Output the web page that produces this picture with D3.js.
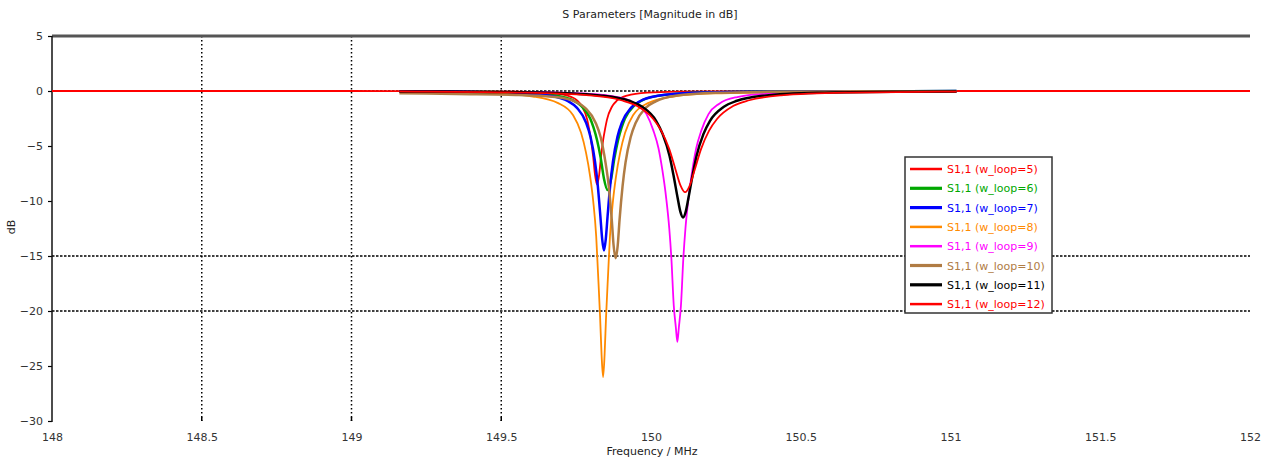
<!DOCTYPE html>
<html>
<head>
<meta charset="utf-8">
<script src="https://cdn.jsdelivr.net/npm/d3@7"></script>
<style>
  html, body { margin: 0; padding: 0; background: #fff; }
  svg { display: block; font-family: "DejaVu Sans", sans-serif; }
</style>
</head>
<body>
<svg id="chart" width="1268" height="458"></svg>
<script>
// Axis ticks
const freqTicks = [148, 148.5, 149, 149.5, 150, 150.5, 151, 151.5, 152];
const dbTicks = [5, 0, -5, -10, -15, -20, -25, -30];
const freqGrid = [148.5, 149, 149.5];
const dbGrid = [0, -15, -20];

// Series labels (legend order = draw order)
const seriesNames = [
  "S1,1 (w_loop=5)", "S1,1 (w_loop=6)", "S1,1 (w_loop=7)", "S1,1 (w_loop=8)",
  "S1,1 (w_loop=9)", "S1,1 (w_loop=10)", "S1,1 (w_loop=11)", "S1,1 (w_loop=12)"
];

// Frequency (MHz) and |S11| (dB) samples per sweep
const freqW5 = [148.0, 149.0, 149.32, 149.553, 149.653, 149.72, 149.753, 149.77, 149.787, 149.793, 149.8, 149.807, 149.813, 149.82, 149.827, 149.833, 149.84, 149.847, 149.853, 149.87, 149.887, 149.92, 149.987, 150.087, 150.32, 151.0, 152.0];
const dbW5 = [0, 0, -0.02, -0.06, -0.15, -0.41, -0.86, -1.41, -2.6, -3.4, -4.5, -6.0, -7.6, -8.5, -7.6, -6.0, -4.5, -3.4, -2.6, -1.41, -0.86, -0.41, -0.15, -0.06, -0.02, 0, 0];

const freqW6 = [149.16, 149.388, 149.563, 149.68, 149.738, 149.767, 149.797, 149.808, 149.82, 149.832, 149.843, 149.855, 149.867, 149.878, 149.89, 149.902, 149.913, 149.943, 149.972, 150.03, 150.147, 150.322, 150.7, 151.02];
const dbW6 = [-0.02, -0.06, -0.15, -0.4, -0.83, -1.36, -2.5, -3.31, -4.47, -6.08, -7.97, -9.0, -7.97, -6.08, -4.47, -3.31, -2.5, -1.36, -0.83, -0.4, -0.15, -0.06, -0.02, -0.01];

const freqW7 = [149.16, 149.362, 149.543, 149.663, 149.723, 149.753, 149.783, 149.798, 149.813, 149.822, 149.831, 149.837, 149.843, 149.849, 149.855, 149.864, 149.873, 149.888, 149.903, 149.933, 149.963, 150.023, 150.143, 150.324, 150.7, 151.02];
const dbW7 = [-0.02, -0.07, -0.16, -0.44, -0.93, -1.53, -2.86, -4.17, -6.41, -8.51, -11.39, -13.47, -14.5, -13.47, -11.39, -8.51, -6.41, -4.17, -2.86, -1.53, -0.93, -0.44, -0.16, -0.07, -0.02, -0.01];

const freqW8 = [149.16, 149.34, 149.473, 149.606, 149.69, 149.74, 149.7665, 149.783, 149.797, 149.807, 149.817, 149.823, 149.83, 149.835, 149.84, 149.845, 149.85, 149.857, 149.863, 149.873, 149.883, 149.897, 149.9135, 149.94, 149.99, 150.074, 150.207, 150.4, 150.7, 151.02];
const dbW8 = [-0.06, -0.13, -0.22, -0.5, -1.1, -2.2, -3.8, -5.6, -7.8, -10, -13.2, -16.5, -20.5, -24, -26, -24, -20.5, -16.5, -13.2, -10, -7.8, -5.6, -3.8, -2.2, -1.1, -0.5, -0.22, -0.12, -0.05, -0.03];

const freqW9 = [149.16, 149.587, 149.788, 149.888, 149.948, 149.985, 150.008, 150.025, 150.038, 150.051, 150.061, 150.068, 150.076, 150.083, 150.088, 150.093, 150.1, 150.108, 150.115, 150.125, 150.138, 150.151, 150.168, 150.192, 150.228, 150.288, 150.388, 150.589, 151.02];
const dbW9 = [-0.03, -0.09, -0.25, -0.55, -1.15, -2.1, -3.6, -5.2, -7.2, -9.8, -12.5, -15.2, -19.5, -21.5, -22.8, -21.5, -19.5, -15.2, -12.5, -9.8, -7.2, -5.2, -3.6, -2.1, -1.15, -0.55, -0.25, -0.09, -0.03];

const freqW10 = [149.16, 149.35, 149.548, 149.682, 149.748, 149.781, 149.815, 149.832, 149.848, 149.859, 149.869, 149.875, 149.882, 149.889, 149.895, 149.905, 149.915, 149.932, 149.949, 149.982, 150.016, 150.082, 150.216, 150.416, 150.7, 151.02];
const dbW10 = [-0.2, -0.28, -0.36, -0.55, -0.98, -1.56, -2.88, -4.21, -6.49, -8.66, -11.71, -14.0, -15.2, -14.0, -11.71, -8.66, -6.49, -4.21, -2.88, -1.54, -0.94, -0.44, -0.17, -0.07, -0.03, -0.02];

const freqW11 = [149.16, 149.385, 149.656, 149.836, 149.927, 149.972, 150.017, 150.039, 150.062, 150.075, 150.089, 150.098, 150.107, 150.116, 150.125, 150.139, 150.152, 150.175, 150.197, 150.242, 150.287, 150.378, 150.558, 150.829, 151.02];
const dbW11 = [-0.04, -0.06, -0.16, -0.42, -0.89, -1.46, -2.71, -3.92, -5.91, -7.64, -9.73, -10.97, -11.5, -10.97, -9.73, -7.64, -5.91, -3.92, -2.71, -1.46, -0.89, -0.42, -0.16, -0.06, -0.04];

const freqW12 = [149.16, 149.26, 149.58, 149.794, 149.9, 149.954, 150.007, 150.034, 150.061, 150.082, 150.098, 150.114, 150.13, 150.146, 150.167, 150.194, 150.221, 150.274, 150.328, 150.434, 150.648, 150.968, 151.02];
const dbW12 = [-0.04, -0.06, -0.15, -0.4, -0.84, -1.37, -2.52, -3.6, -5.28, -7.15, -8.55, -9.2, -8.55, -7.15, -5.28, -3.6, -2.52, -1.37, -0.84, -0.4, -0.15, -0.06, -0.05];

const sweepFreqs = [freqW5, freqW6, freqW7, freqW8, freqW9, freqW10, freqW11, freqW12];
const sweepDb = [dbW5, dbW6, dbW7, dbW8, dbW9, dbW10, dbW11, dbW12];

// Line styling per sweep
const lineColors = ["#ff0000", "#00a800", "#0000ff", "#ff8a00", "#ff00ff", "#b07c44", "#000000", "#ff0000"];
const lineWidths = [1.8, 2.5, 2.5, 1.8, 1.8, 2.5, 2.5, 1.8];

(function draw() {
  const svg = d3.select("#chart");
  const pLeft = 52, pRight = 1250, pTop = 36, pBottom = 421;

  const x = d3.scaleLinear().domain([148, 152]).range([pLeft, pRight]);
  const y = d3.scaleLinear().domain([-30, 5]).range([pBottom, pTop]);

  // Title
  svg.append("text")
    .attr("x", 650).attr("y", 18)
    .attr("text-anchor", "middle")
    .attr("font-size", 11).attr("fill", "#222")
    .text("S Parameters [Magnitude in dB]");

  // Dotted grid
  const grid = svg.append("g");
  grid.selectAll("line.vx").data(freqGrid).join("line").attr("class", "vx")
    .attr("x1", d => x(d)).attr("x2", d => x(d))
    .attr("y1", pTop).attr("y2", pBottom)
    .attr("stroke", "#000").attr("stroke-width", 1.5)
    .attr("stroke-dasharray", "1.5,2.5");
  grid.selectAll("line.vt").data(freqGrid).join("line").attr("class", "vt")
    .attr("x1", d => x(d)).attr("x2", d => x(d))
    .attr("y1", pBottom - 4).attr("y2", pBottom)
    .attr("stroke", "#000").attr("stroke-width", 1.5);
  grid.selectAll("line.hy").data(dbGrid).join("line").attr("class", "hy")
    .attr("x1", pLeft).attr("x2", pRight)
    .attr("y1", d => y(d)).attr("y2", d => y(d))
    .attr("stroke", "#000").attr("stroke-width", 1.5)
    .attr("stroke-dasharray", "2.5,1.5");

  // Axes
  const yAxis = svg.append("g")
    .attr("transform", `translate(${pLeft},0)`)
    .call(d3.axisLeft(y).tickValues(dbTicks).tickSize(4).tickPadding(5).tickFormat(d3.format("d")));
  yAxis.select(".domain").remove();
  yAxis.selectAll("text").attr("font-size", 11).attr("fill", "#333").attr("font-family", "DejaVu Sans");
  yAxis.selectAll("line").attr("stroke", "#000").attr("stroke-width", 1.2);

  const xAxis = svg.append("g")
    .attr("transform", `translate(0,${pBottom})`)
    .call(d3.axisBottom(x).tickValues(freqTicks).tickSize(0).tickPadding(12).tickFormat(d => String(d)));
  xAxis.select(".domain").remove();
  xAxis.selectAll("text").attr("font-size", 11).attr("fill", "#333").attr("font-family", "DejaVu Sans");

  // Frame: top border and left axis line
  svg.append("line")
    .attr("x1", pLeft).attr("x2", pRight).attr("y1", pTop).attr("y2", pTop)
    .attr("stroke", "#555").attr("stroke-width", 3);
  svg.append("line")
    .attr("x1", pLeft).attr("x2", pLeft).attr("y1", pTop).attr("y2", pBottom + 1)
    .attr("stroke", "#111").attr("stroke-width", 1.5);

  // Axis labels
  svg.append("text")
    .attr("x", 652).attr("y", 455)
    .attr("text-anchor", "middle")
    .attr("font-size", 11).attr("fill", "#222")
    .text("Frequency / MHz");
  svg.append("text")
    .attr("transform", "translate(15,227) rotate(-90)")
    .attr("text-anchor", "middle")
    .attr("font-size", 11).attr("fill", "#222")
    .text("dB");

  // Sweeps
  const line = d3.line()
    .x(d => x(d[0])).y(d => y(d[1]))
    .curve(d3.curveMonotoneX);

  const curves = svg.append("g").attr("fill", "none").attr("stroke-linejoin", "round");
  sweepFreqs.forEach((fs, i) => {
    const pts = fs.map((f, k) => [f, sweepDb[i][k]]);
    curves.append("path")
      .attr("d", line(pts))
      .attr("stroke", lineColors[i])
      .attr("stroke-width", lineWidths[i]);
  });

  // Legend
  const lg = svg.append("g");
  lg.append("rect")
    .attr("x", 905).attr("y", 157).attr("width", 147).attr("height", 156)
    .attr("fill", "#fff").attr("stroke", "#333").attr("stroke-width", 1.5);
  seriesNames.forEach((name, i) => {
    const ry = 169 + i * 19.3;
    lg.append("line")
      .attr("x1", 910).attr("x2", 942).attr("y1", ry).attr("y2", ry)
      .attr("stroke", lineColors[i]).attr("stroke-width", lineWidths[i] + 0.7);
    lg.append("text")
      .attr("x", 947).attr("y", ry + 4)
      .attr("font-size", 11).attr("fill", lineColors[i])
      .text(name);
  });
})();
</script>
</body>
</html>
